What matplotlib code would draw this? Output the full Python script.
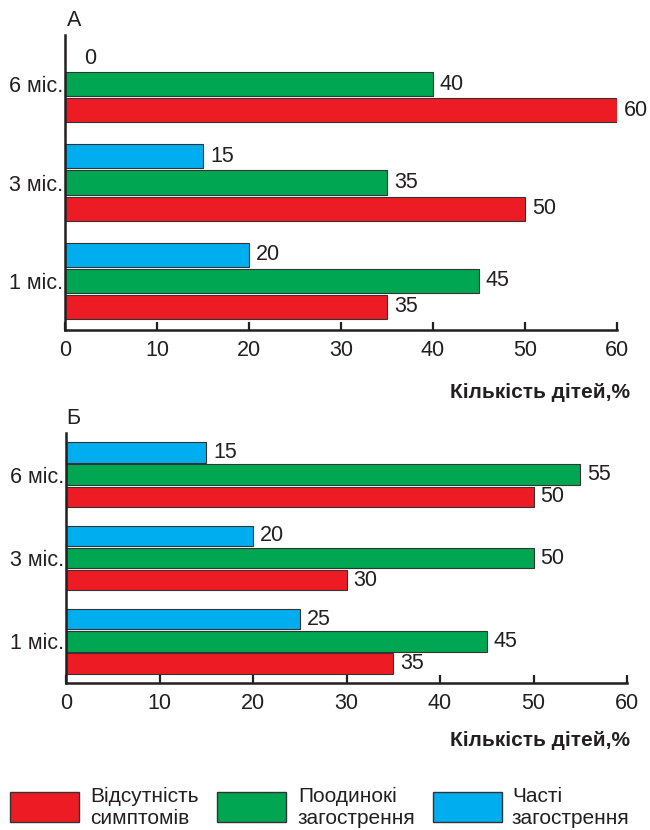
import numpy as np
import matplotlib
matplotlib.use("Agg")
import matplotlib.pyplot as plt
from matplotlib.patches import Rectangle

plt.rcParams['font.family'] = ['Liberation Sans', 'DejaVu Sans']

# data (percent of children)
periods = ['1 міс.', '3 міс.', '6 міс.']
a_absent = [35, 50, 60]
a_single = [45, 35, 40]
a_frequent = [20, 15, 0]
b_absent = [35, 30, 50]
b_single = [45, 50, 55]
b_frequent = [25, 20, 15]

series_names = ['Відсутність\nсимптомів', 'Поодинокі\nзагострення', 'Часті\nзагострення']
colors = ['#ED1C24', '#00A651', '#00AEEF']
x_ticks = [0, 10, 20, 30, 40, 50, 60]
xlabel = 'Кількість дітей,%'

W, H = 650, 830
FS = 15.5
fig = plt.figure(figsize=(W / 100, H / 100), dpi=100)


def px_axes(left, top, right, bottom):
    return fig.add_axes([left / W, 1 - bottom / H, (right - left) / W, (bottom - top) / H])


def draw_panel(ax, absent, single, frequent):
    y = np.arange(len(periods))
    off, h = 0.265, 0.245
    for vals, dy, col in [(absent, -off, colors[0]), (single, 0, colors[1]), (frequent, off, colors[2])]:
        lw = [0.8 if v > 0 else 0 for v in vals]
        ax.barh(y + dy, vals, height=h, color=col, edgecolor='#333333', linewidth=lw)
        for yi, v in zip(y + dy, vals):
            # the zero bar's label sits a bit further out in the original
            pad = 5 if v > 0 else 14
            ax.annotate(str(v), (v, yi), xytext=(pad, 0), textcoords='offset points',
                        ha='left', va='center', fontsize=FS, color='#231f20')
    ax.set_xlim(0, 60)
    ax.set_ylim(-0.5, 2.5)
    ax.set_xticks(x_ticks)
    ax.set_yticks(y)
    ax.set_yticklabels(periods)
    ax.spines['top'].set_visible(False)
    ax.spines['right'].set_visible(False)
    for s in ['left', 'bottom']:
        ax.spines[s].set_linewidth(1.8)
        ax.spines[s].set_color('#231f20')
    ax.tick_params(axis='x', direction='in', length=6, width=1.6, labelsize=FS,
                   pad=7, colors='#231f20')
    ax.tick_params(axis='y', length=0, labelsize=FS, pad=1, colors='#231f20')


ax_a = px_axes(65, 35, 617, 330)
draw_panel(ax_a, a_absent, a_single, a_frequent)
ax_b = px_axes(66, 433, 627, 683)
draw_panel(ax_b, b_absent, b_single, b_frequent)

fig.text(74 / W, 1 - 21 / H, 'А', ha='center', va='center', fontsize=FS, color='#231f20')
fig.text(73 / W, 1 - 418 / H, 'Б', ha='center', va='center', fontsize=FS, color='#231f20')
fig.text(630 / W, 1 - 392 / H, xlabel, ha='right', va='center', fontsize=15,
         fontweight='bold', color='#231f20')
fig.text(630 / W, 1 - 740 / H, xlabel, ha='right', va='center', fontsize=15,
         fontweight='bold', color='#231f20')

# legend
box_x = [10, 217, 433]
text_x = [90, 298, 512]
for name, col, bx, tx in zip(series_names, colors, box_x, text_x):
    fig.patches.append(Rectangle((bx / W, 1 - 822 / H), 69 / W, 30 / H, transform=fig.transFigure,
                                 facecolor=col, edgecolor='#333333', linewidth=1.0))
    fig.text(tx / W, 1 - 807 / H, name, ha='left', va='center', fontsize=15,
             linespacing=1.2, color='#231f20')

fig.savefig('out.png', dpi=100)
